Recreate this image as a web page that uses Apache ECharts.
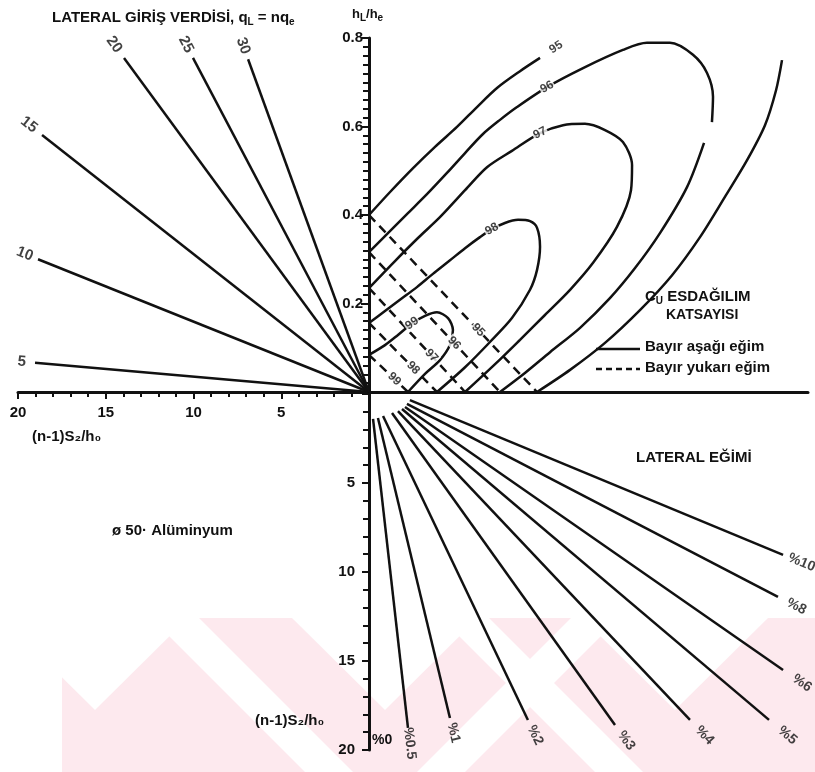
<!DOCTYPE html>
<html>
<head>
<meta charset="utf-8">
<title>Lateral nomogram</title>
<script src="https://cdn.jsdelivr.net/npm/echarts@6/dist/echarts.min.js"></script>
<style>
  html, body { margin: 0; padding: 0; background: #fff; }
  #chart { width: 815px; height: 772px; }
</style>
</head>
<body>
<div id="chart"></div>
<script>
// lateral inflow rays (upper left): end point of each ray drawn from the origin
var inflowNames = ['5', '10', '15', '20', '25', '30'];
var inflowEndX = [19.03, 18.86, 18.63, 13.96, 10.03, 6.89];   // (n-1)S2/h0
var inflowEndY = [0.066, 0.300, 0.581, 0.755, 0.755, 0.752];  // hL/he

// Cu uniformity values; both curve families share these axis intercepts
var cuNames = ['95', '96', '97', '98', '99'];
var cuAxisY = [0.400, 0.316, 0.235, 0.156, 0.084];
var cuAxisX = [9.57, 7.46, 5.47, 3.87, 2.22];

// downhill slope curves (solid)
var down95a = [[0, 0.400], [1.20, 0.452], [2.51, 0.506], [3.76, 0.554], [5.01, 0.599], [6.15, 0.644], [7.29, 0.687], [8.60, 0.725], [9.74, 0.755]];
var down95b = [[23.52, 0.750], [23.18, 0.682], [22.55, 0.603], [21.53, 0.524], [20.27, 0.441], [18.85, 0.350], [17.26, 0.264], [15.43, 0.185], [13.44, 0.111], [11.45, 0.050], [9.57, 0]];
var down96a = [[0, 0.316], [1.08, 0.359], [2.16, 0.402], [3.30, 0.447], [4.44, 0.495], [5.47, 0.540], [6.49, 0.583], [7.46, 0.615], [8.43, 0.644], [10.14, 0.689], [12.19, 0.732], [14.46, 0.773], [15.83, 0.789], [17.14, 0.789], [18.45, 0.762], [19.25, 0.721], [19.59, 0.667], [19.53, 0.610]];
var down96b = [[19.08, 0.563], [18.11, 0.463], [16.57, 0.359], [15.15, 0.280], [13.72, 0.212], [12.02, 0.145], [10.31, 0.090], [8.88, 0.043], [7.46, 0]];
var down97 = [[0, 0.235], [1.48, 0.296], [2.79, 0.348], [4.04, 0.395], [5.47, 0.456], [6.72, 0.508], [8.14, 0.545], [9.74, 0.585], [11.05, 0.603], [12.30, 0.606], [13.44, 0.592], [14.46, 0.565], [14.98, 0.513], [14.92, 0.456], [14.12, 0.373], [12.76, 0.292], [11.45, 0.231], [10.02, 0.174], [8.60, 0.118], [7.18, 0.063], [5.47, 0]];
var down98 = [[0, 0.156], [0.91, 0.183], [1.82, 0.210], [2.73, 0.237], [3.64, 0.267], [4.56, 0.296], [5.47, 0.325], [6.32, 0.350], [7.00, 0.368], [7.74, 0.382], [8.49, 0.389], [9.17, 0.386], [9.57, 0.371], [9.74, 0.328], [9.57, 0.276], [9.17, 0.231], [8.14, 0.167], [6.89, 0.113], [5.47, 0.056], [3.87, 0]];
var down99 = [[0, 0.084], [0.91, 0.106], [1.65, 0.129], [2.45, 0.155], [3.19, 0.172], [3.87, 0.180], [4.50, 0.167], [4.78, 0.140], [4.61, 0.106], [4.04, 0.072], [3.19, 0.041], [2.22, 0]];
var solidCurves = [down95a, down95b, down96a, down96b, down97, down98, down99];
var solidCurveOf = ['95', '95', '96', '96', '97', '98', '99'];

// lateral slope rays (lower right)
var slopeNames = ['%0.5', '%1', '%2', '%3', '%4', '%5', '%6', '%8', '%10'];
var slopeStartX = [0.23, 0.51, 0.80, 1.31, 1.65, 1.88, 2.05, 2.16, 2.33];
var slopeStartY = [1.40, 1.35, 1.24, 1.07, 0.96, 0.84, 0.73, 0.56, 0.34];
var slopeEndX = [2.22, 4.61, 9.05, 14.01, 18.28, 22.78, 23.58, 23.29, 23.58];
var slopeEndY = [18.76, 18.20, 18.31, 18.60, 18.31, 18.31, 15.51, 11.40, 9.04];

// ---- layout ----
var INK = '#111';
var FONT = 'Liberation Sans, Arial, sans-serif';
var ORIGIN_X = 369, ORIGIN_Y = 392, TOP_Y = 38, LEFT_X = 18, RIGHT_X = 808;
var LOW_TOP = 394, LOW_BOTTOM = 750;
var solidLabelAt = [8, -1, 9, -1, 7, 8, 3];  // vertex carrying the value label
var DASH_LABEL_AT = 0.65;
var RAY_LABEL_PUSH = 0.04;
var SLOPE_LABEL_PUSH = 0.05;

var gridUL = { left: LEFT_X, top: TOP_Y, width: ORIGIN_X - LEFT_X, height: ORIGIN_Y - TOP_Y, outerBoundsMode: 'none' };
var gridUR = { left: ORIGIN_X, top: TOP_Y, width: RIGHT_X - ORIGIN_X, height: ORIGIN_Y - TOP_Y, outerBoundsMode: 'none' };
var gridLR = { left: ORIGIN_X, top: LOW_TOP, width: RIGHT_X - ORIGIN_X, height: LOW_BOTTOM - LOW_TOP, outerBoundsMode: 'none' };

// pixels per unit, used only to turn labels along their lines
var sxUL = gridUL.width / 20, syUL = gridUL.height / 0.8;
var sxUR = gridUR.width / 25, syUR = gridUR.height / 0.8;
var sxLR = gridLR.width / 25, syLR = gridLR.height / 20;

function deg(r) { return r * 180 / Math.PI; }

var lineStyle = { color: INK, width: 2.5 };
var labelFont = { color: INK, fontFamily: FONT, fontWeight: 'bold' };
var hidden = { symbolSize: 1, itemStyle: { color: 'transparent' }, clip: false, silent: true };

function axisStyle(extra) {
  var base = {
    type: 'value',
    axisLine: { show: true, onZero: false, lineStyle: { color: INK, width: 3 } },
    splitLine: { show: false },
    minorSplitLine: { show: false }
  };
  for (var k in extra) base[k] = extra[k];
  return base;
}

var series = [];

// upper left: lateral inflow rays
inflowNames.forEach(function (name, i) {
  series.push({
    type: 'line', xAxisIndex: 0, yAxisIndex: 0, symbol: 'none', silent: true,
    lineStyle: lineStyle, data: [[0, 0], [inflowEndX[i], inflowEndY[i]]]
  });
});
series.push(Object.assign({
  type: 'scatter', xAxisIndex: 0, yAxisIndex: 0,
  label: Object.assign({ show: true, position: 'inside', formatter: '{b}', fontSize: 15 }, labelFont),
  data: inflowNames.map(function (name, i) {
    var k = 1 + RAY_LABEL_PUSH;
    return {
      name: name, value: [inflowEndX[i] * k, inflowEndY[i] * k],
      label: { rotate: -deg(Math.atan2(inflowEndY[i] * syUL, inflowEndX[i] * sxUL)) }
    };
  })
}, hidden));

// upper right: solid curves
solidCurves.forEach(function (pts) {
  series.push({
    name: 'Bayır aşağı eğim', type: 'line', xAxisIndex: 1, yAxisIndex: 1,
    symbol: 'none', smooth: 0.3, silent: true, lineStyle: lineStyle, data: pts
  });
});
var solidLabels = [];
solidCurves.forEach(function (pts, c) {
  var at = solidLabelAt[c];
  if (at < 0) return;
  var a = pts[Math.max(at - 1, 0)], b = pts[Math.min(at + 1, pts.length - 1)];
  var p = pts[at];
  if (at === pts.length - 1) {
    p = [p[0] + (p[0] - a[0]) * 0.8, p[1] + (p[1] - a[1]) * 0.8];
  }
  solidLabels.push({
    name: solidCurveOf[c], value: p,
    label: { rotate: deg(Math.atan2((b[1] - a[1]) * syUR, (b[0] - a[0]) * sxUR)) }
  });
});
series.push(Object.assign({
  type: 'scatter', xAxisIndex: 1, yAxisIndex: 1, z: 5,
  label: Object.assign({ show: true, position: 'inside', formatter: '{b}', fontSize: 12,
    backgroundColor: '#fff', padding: [0, 1] }, labelFont),
  data: solidLabels
}, hidden));

// upper right: dashed straight lines
cuNames.forEach(function (name, i) {
  series.push({
    name: 'Bayır yukarı eğim', type: 'line', xAxisIndex: 1, yAxisIndex: 1,
    symbol: 'none', silent: true,
    lineStyle: { color: INK, width: 2.5, type: [9, 6] },
    data: [[0, cuAxisY[i]], [cuAxisX[i], 0]]
  });
});
series.push(Object.assign({
  type: 'scatter', xAxisIndex: 1, yAxisIndex: 1, z: 5,
  label: Object.assign({ show: true, position: 'inside', formatter: '{b}', fontSize: 12,
    backgroundColor: '#fff', padding: [0, 1] }, labelFont),
  data: cuNames.map(function (name, i) {
    return {
      name: name,
      value: [cuAxisX[i] * DASH_LABEL_AT, cuAxisY[i] * (1 - DASH_LABEL_AT)],
      label: { rotate: -deg(Math.atan2(cuAxisY[i] * syUR, cuAxisX[i] * sxUR)) }
    };
  })
}, hidden));

// lower right: lateral slope rays
slopeNames.forEach(function (name, i) {
  series.push({
    type: 'line', xAxisIndex: 2, yAxisIndex: 2, symbol: 'none', silent: true,
    lineStyle: lineStyle,
    data: [[slopeStartX[i], slopeStartY[i]], [slopeEndX[i], slopeEndY[i]]]
  });
});
series.push(Object.assign({
  type: 'scatter', xAxisIndex: 2, yAxisIndex: 2,
  label: Object.assign({ show: true, position: 'inside', formatter: '{b}', fontSize: 14 }, labelFont),
  data: slopeNames.map(function (name, i) {
    var dx = slopeEndX[i] - slopeStartX[i], dy = slopeEndY[i] - slopeStartY[i];
    return {
      name: name,
      value: [slopeEndX[i] + dx * SLOPE_LABEL_PUSH, slopeEndY[i] + dy * SLOPE_LABEL_PUSH],
      label: { rotate: -deg(Math.atan2(dy * syLR, dx * sxLR)) }
    };
  })
}, hidden));

var tickLabel = { color: INK, fontFamily: FONT, fontWeight: 'bold', fontSize: 15 };
var sub = { s: { fontSize: 10, fontWeight: 'bold', fontFamily: FONT, padding: [9, 0, 0, 0] } };

function txt(x, y, text, size, extra) {
  var el = {
    type: 'text', x: x, y: y, silent: true,
    style: { text: text, fill: INK, font: 'bold ' + size + 'px ' + FONT, textVerticalAlign: 'middle', rich: sub }
  };
  if (extra) for (var k in extra) el.style[k] = extra[k];
  return el;
}

// faint watermark band at the bottom
var PINK = '#fde9ee';
var watermark = [{ type: 'rect', z: -10, silent: true, shape: { x: 62, y: 618, width: 753, height: 154 }, style: { fill: PINK } }];
[95, 385, 675].forEach(function (cx) {
  watermark.push({ type: 'polygon', z: -9, silent: true,
    shape: { points: [[cx - 93, 618], [cx + 93, 618], [cx, 710]] }, style: { fill: '#fff' } });
});
[151, 441].forEach(function (x0) {
  watermark.push({ type: 'polygon', z: -9, silent: true,
    shape: { points: [[x0, 618], [x0 + 48, 618], [x0 + 202, 772], [x0 + 154, 772]] }, style: { fill: '#fff' } });
});
[619].forEach(function (x0) {
  watermark.push({ type: 'polygon', z: -9, silent: true,
    shape: { points: [[x0 - 48, 618], [x0, 618], [x0 - 154, 772], [x0 - 202, 772]] }, style: { fill: '#fff' } });
});

var option = {
  animation: false,
  backgroundColor: '#fff',
  grid: [gridUL, gridUR, gridLR],
  xAxis: [
    axisStyle({
      gridIndex: 0, min: 0, max: 20, interval: 5, inverse: true,
      axisTick: { show: true, length: 7, lineStyle: { color: INK, width: 2 } },
      minorTick: { show: true, splitNumber: 5, length: 5, lineStyle: { color: INK, width: 2 } },
      axisLabel: Object.assign({ margin: 13, formatter: function (v) { return v === 0 ? '' : String(v); } }, tickLabel)
    }),
    axisStyle({ gridIndex: 1, min: 0, max: 25, axisTick: { show: false }, axisLabel: { show: false } }),
    { type: 'value', gridIndex: 2, min: 0, max: 25, show: false }
  ],
  yAxis: [
    { type: 'value', gridIndex: 0, min: 0, max: 0.8, show: false },
    axisStyle({
      gridIndex: 1, min: 0, max: 0.8, interval: 0.2, position: 'left',
      axisTick: { show: true, length: 8, lineStyle: { color: INK, width: 2 } },
      minorTick: { show: true, splitNumber: 10, length: 6, lineStyle: { color: INK, width: 2 } },
      axisLabel: Object.assign({ margin: 6, formatter: function (v) { return v === 0 ? '' : v.toFixed(1); } }, tickLabel)
    }),
    axisStyle({
      gridIndex: 2, min: 0, max: 20, interval: 5, inverse: true, position: 'left',
      axisTick: { show: true, length: 7, lineStyle: { color: INK, width: 2 } },
      minorTick: { show: true, splitNumber: 5, length: 6, lineStyle: { color: INK, width: 2 } },
      axisLabel: Object.assign({ margin: 14, formatter: function (v) { return v === 0 ? '' : String(v); } }, tickLabel)
    })
  ],
  graphic: watermark.concat([
    txt(52, 18, 'LATERAL GİRİŞ VERDİSİ, q{s|L} = nq{s|e}', 15),
    txt(352, 14, 'h{s|L}/h{s|e}', 13),
    txt(32, 437, '(n-1)S₂/h₀', 15),
    txt(112, 531, 'ø 50· Alüminyum', 15),
    txt(636, 458, 'LATERAL EĞİMİ', 15),
    txt(645, 297, 'C{s|U} ESDAĞILIM', 15),
    txt(666, 315, 'KATSAYISI', 14),
    { type: 'line', silent: true, shape: { x1: 596, y1: 349, x2: 640, y2: 349 }, style: { stroke: INK, lineWidth: 2.5 } },
    txt(645, 347, 'Bayır aşağı eğim', 15),
    { type: 'line', silent: true, shape: { x1: 596, y1: 369, x2: 640, y2: 369 }, style: { stroke: INK, lineWidth: 2.5, lineDash: [6, 4] } },
    txt(645, 368, 'Bayır yukarı eğim', 15),
    txt(255, 721, '(n-1)S₂/h₀', 15),
    txt(372, 740, '%0', 14)
  ]),
  series: series
};

var chart = echarts.init(document.getElementById('chart'));
chart.setOption(option);
</script>
</body>
</html>
